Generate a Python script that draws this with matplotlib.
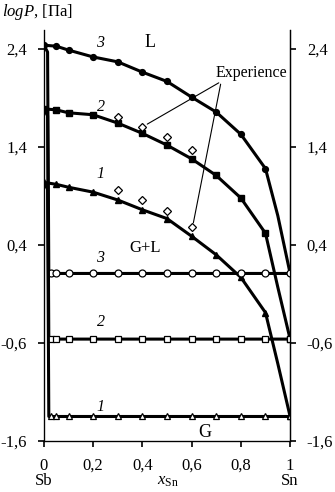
import matplotlib
matplotlib.use("Agg")
import matplotlib.pyplot as plt

plt.rcParams['font.family'] = ['Liberation Serif', 'DejaVu Serif']
plt.rcParams['mathtext.fontset'] = 'custom'
plt.rcParams['mathtext.rm'] = 'Liberation Serif'
plt.rcParams['mathtext.it'] = 'Liberation Serif:italic'

# Liquid (L) curves
xL = [0, 0.05, 0.1, 0.2, 0.3, 0.4, 0.5, 0.6, 0.7, 0.8, 0.9, 0.95, 1.0]
L3 = [2.44, 2.43, 2.39, 2.32, 2.27, 2.165, 2.07, 1.91, 1.757, 1.53, 1.18, 0.70, 0.11]
L2 = [1.79, 1.78, 1.75, 1.73, 1.645, 1.54, 1.42, 1.28, 1.11, 0.88, 0.52, -0.03, -0.56]
L1 = [1.04, 1.02, 0.99, 0.94, 0.86, 0.76, 0.67, 0.49, 0.30, 0.07, -0.29, -0.81, -1.35]

# Gas (G) curves
xG = [0, 0.015, 0.02, 0.03, 0.05, 0.1, 0.2, 0.3, 0.4, 0.5, 0.6, 0.7, 0.8, 0.9, 1.0]
G3 = [2.44, 2.37, 0.11, 0.11, 0.11, 0.11, 0.11, 0.11, 0.11, 0.11, 0.11, 0.11, 0.11, 0.11, 0.11]
G2 = [1.79, 1.72, -0.56, -0.56, -0.56, -0.56, -0.56, -0.56, -0.56, -0.56, -0.56, -0.56, -0.56, -0.56, -0.56]
G1 = [1.04, 0.97, -1.35, -1.35, -1.35, -1.35, -1.35, -1.35, -1.35, -1.35, -1.35, -1.35, -1.35, -1.35, -1.35]

# Experimental points
xE = [0.3, 0.4, 0.5, 0.6]
E2 = [1.71, 1.60, 1.50, 1.37]
E1 = [0.96, 0.86, 0.75, 0.58]

yticks = [-1.6, -0.6, 0.4, 1.4, 2.4]
ytick_labels = ['-1,6', '-0,6', '0,4', '1,4', '2,4']
xticks = [0, 0.2, 0.4, 0.6, 0.8, 1.0]
xtick_labels = ['0', '0,2', '0,4', '0,6', '0,8', '1']

fig = plt.figure(figsize=(3.35, 4.92), dpi=100)
ax = fig.add_axes([0.131, 0.1037, 0.735, 0.8363])
ax.set_xlim(0, 1)
ax.set_ylim(-1.6, 2.6)

lw = 2.2
mev_L = [i for i in range(len(xL)) if xL[i] != 0.95]
ax.plot(xL, L3, color='black', lw=lw, marker='o', ms=4.2, markevery=mev_L, zorder=3)
ax.plot(xL, L2, color='black', lw=lw, marker='s', ms=4.2, markevery=mev_L, zorder=3)
ax.plot(xL, L1, color='black', lw=lw, marker='^', ms=4.2, markevery=mev_L, zorder=3)

mev_G = list(range(3, len(xG)))
ax.plot(xG, G3, color='black', lw=lw, marker='o', ms=5, mfc='white', mec='black', mew=0.9, markevery=mev_G, zorder=4)
ax.plot(xG, G2, color='black', lw=lw, marker='s', ms=5, mfc='white', mec='black', mew=0.9, markevery=mev_G, zorder=4)
ax.plot(xG, G1, color='black', lw=lw, marker='^', ms=5, mfc='white', mec='black', mew=0.9, markevery=mev_G, zorder=4)

ax.plot(xE, E2, ls='none', marker='D', ms=4, mfc='white', mec='black', mew=0.9, zorder=5)
ax.plot(xE, E1, ls='none', marker='D', ms=4, mfc='white', mec='black', mew=0.9, zorder=5)

# Annotation "Experience"
ax.text(0.99, 2.16, 'Experience', ha='right', va='center', fontsize=11.5)
ax.annotate('', xy=(0.41, 1.62), xytext=(0.72, 2.07),
            arrowprops=dict(arrowstyle='-', color='black', lw=0.8))
ax.annotate('', xy=(0.605, 0.60), xytext=(0.72, 2.07),
            arrowprops=dict(arrowstyle='-', color='black', lw=0.8))

# curve labels
for (x, y, t) in [(0.23, 2.46, '3'), (0.23, 1.81, '2'), (0.23, 1.13, '1'),
                  (0.23, 0.27, '3'), (0.23, -0.39, '2'), (0.23, -1.25, '1')]:
    ax.text(x, y, t, fontstyle='italic', fontsize=11.5, ha='center', va='center')

ax.text(0.43, 2.47, 'L', fontsize=13, ha='center', va='center')
ax.text(0.41, 0.37, 'G+L', fontsize=12, ha='center', va='center')
ax.text(0.655, -1.51, 'G', fontsize=13, ha='center', va='center')

# axes styling
ax.spines['top'].set_visible(False)
for s in ['left', 'right', 'bottom']:
    ax.spines[s].set_linewidth(0.9)

ax.set_yticks(yticks)
ax.set_yticklabels(ytick_labels, fontsize=12)
ax.set_xticks(xticks)
ax.set_xticklabels(xtick_labels, fontsize=12)
ax.tick_params(axis='both', direction='out', length=4, width=1.2, pad=8)

ax2 = ax.twinx()
ax2.set_ylim(ax.get_ylim())
ax2.set_yticks(yticks)
ax2.set_yticklabels(ytick_labels, fontsize=12)
ax2.spines['top'].set_visible(False)
ax2.spines['right'].set_linewidth(0.9)
ax2.tick_params(axis='y', direction='out', length=4, width=1.2, pad=8)

fig.text(0.005, 0.975, r'$logP$, [Па]', fontsize=12, ha='left', va='center')
fig.text(0.131, 0.022, 'Sb', fontsize=12, ha='center', va='center')
fig.text(0.866, 0.022, 'Sn', fontsize=12, ha='center', va='center')
fig.text(0.50, 0.022, r'$x_{\mathrm{Sn}}$', fontsize=12, ha='center', va='center')

fig.savefig('out.png', dpi=100)
